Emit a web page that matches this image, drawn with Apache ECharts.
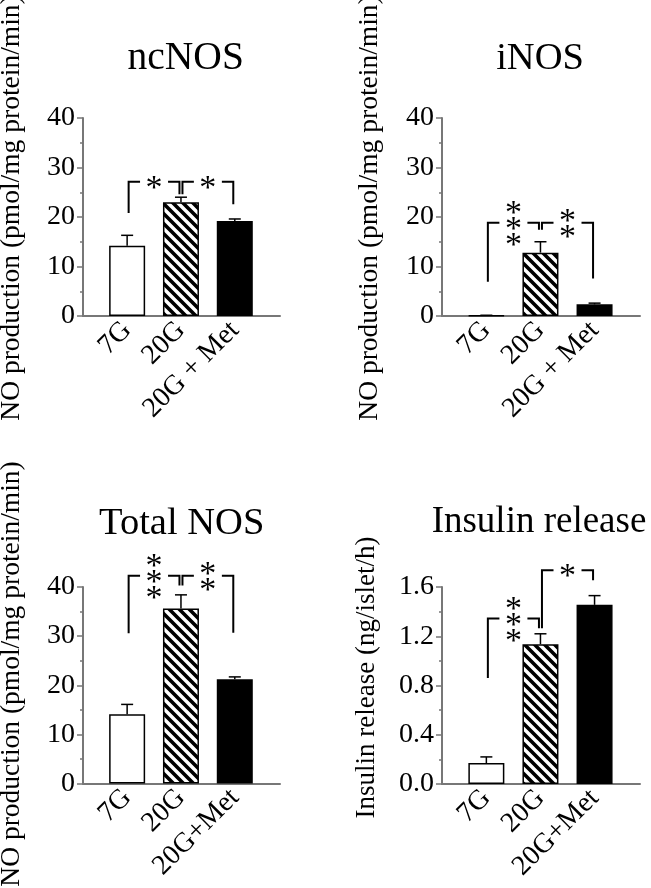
<!DOCTYPE html>
<html><head><meta charset="utf-8">
<script src="https://cdn.jsdelivr.net/npm/echarts@6/dist/echarts.min.js"></script>
<style>html,body{margin:0;padding:0;background:#fff}#c{width:651px;height:888px}</style>
</head><body><div id="c"></div>
<script>
// ---------------- data ----------------
const categoriesSpaced = ['7G', '20G', '20G + Met'];
const categoriesTight = ['7G', '20G', '20G+Met'];

const ncNOS = [14.2, 23.0, 19.2];
const ncNOSErr = [2.1, 1.0, 0.4];
const iNOS = [0.1, 12.8, 2.35];
const iNOSErr = [0.05, 2.2, 0.25];
const totalNOS = [14.1, 35.6, 21.2];
const totalNOSErr = [2.0, 2.8, 0.5];
const insulin = [0.17, 1.135, 1.455];
const insulinErr = [0.05, 0.085, 0.075];

const nosTicks = [0, 10, 20, 30, 40];
const insulinTicks = [0, 0.4, 0.8, 1.2, 1.6];

// significance brackets: [fromIndex, toIndex, topValue, leftLegEnd, rightLegEnd]
const ncBrackets = [[0, 1, 27.1, 20.8, 24.6], [1, 2, 27.1, 24.6, 22.6]];
const ncStars = ['*', '*'];
const iBrackets = [[0, 1, 18.85, 6.9, 17.4], [1, 2, 18.85, 17.4, 7.6]];
const iStars = ['***', '**'];
const totalBrackets = [[0, 1, 42.3, 30.6, 40.3], [1, 2, 42.3, 40.3, 30.7]];
const totalStars = ['***', '**'];
const insulinBrackets = [[0, 1, 1.344, 0.86, 1.265], [1, 2, 1.736, 1.265, 1.655]];
const insulinStars = ['***', '*'];

const titles = ['ncNOS', 'iNOS', 'Total NOS', 'Insulin release'];
const yTitles = ['NO production (pmol/mg protein/min)', 'NO production (pmol/mg protein/min)',
                 'NO production (pmol/mg protein/min)', 'Insulin release (ng/islet/h)'];

// ---------------- styling / layout ----------------
const FONT = '"Liberation Serif", "Times New Roman", serif';
const AXIS_COLOR = '#777';

const layout = [
  { grid: { left: 83, top: 118, width: 197, height: 198 }, title: [185.7, 39], titleSize: 39.5, ytitle: [12, 208], ytitleSize: 27.5 },
  { grid: { left: 442, top: 118, width: 198, height: 198 }, title: [540, 39], titleSize: 38.5, ytitle: [370, 208], ytitleSize: 27.5 },
  { grid: { left: 83, top: 587, width: 197, height: 196.5 }, title: [181.7, 504], titleSize: 38.5, ytitle: [12, 674], ytitleSize: 27.5 },
  { grid: { left: 442, top: 587, width: 198, height: 197 }, title: [539, 504], titleSize: 37, ytitle: [367, 677.5], ytitleSize: 27 }
];

const panels = [
  { values: ncNOS, errors: ncNOSErr, labels: categoriesSpaced, ticks: nosTicks, brackets: ncBrackets, stars: ncStars, decimals: 0 },
  { values: iNOS, errors: iNOSErr, labels: categoriesSpaced, ticks: nosTicks, brackets: iBrackets, stars: iStars, decimals: 0 },
  { values: totalNOS, errors: totalNOSErr, labels: categoriesTight, ticks: nosTicks, brackets: totalBrackets, stars: totalStars, decimals: 0 },
  { values: insulin, errors: insulinErr, labels: categoriesTight, ticks: insulinTicks, brackets: insulinBrackets, stars: insulinStars, decimals: 1 }
];

// hatch pattern (diagonal "\" stripes)
function makeHatch() {
  const c = document.createElement('canvas');
  c.width = 10; c.height = 10;
  const g = c.getContext('2d');
  g.fillStyle = '#fff'; g.fillRect(0, 0, 10, 10);
  g.strokeStyle = '#000'; g.lineWidth = 3.6;
  g.beginPath();
  g.moveTo(-2, -2); g.lineTo(12, 12);
  g.moveTo(-2, 8); g.lineTo(2, 12);
  g.moveTo(8, -2); g.lineTo(12, 2);
  g.stroke();
  return c;
}
const hatch = makeHatch();
const barFills = ['#fff', { image: hatch, repeat: 'repeat' }, '#000'];

function errRender(params, api) {
  const x = api.value(0), y = api.value(1), e = api.value(2);
  const p0 = api.coord([x, y]), p1 = api.coord([x, y + e]);
  const st = { stroke: '#000', lineWidth: 1.5 };
  return { type: 'group', children: [
    { type: 'line', shape: { x1: p0[0], y1: p0[1], x2: p1[0], y2: p1[1] }, style: st },
    { type: 'line', shape: { x1: p1[0] - 6, y1: p1[1], x2: p1[0] + 6, y2: p1[1] }, style: st }
  ] };
}

const STAR_SIZE = 34;
function bracketRender(stars) {
  return function (params, api) {
    const s = stars[params.dataIndex];
    const x1 = api.value(0), x2 = api.value(1), top = api.value(2), l = api.value(3), r = api.value(4);
    const pL = api.coord([x1, l]), pT = api.coord([x1, top]), pR = api.coord([x2, r]);
    const xl = pL[0] + 1.5, xr = pR[0] - 1.5, yt = pT[1];
    const xm = (pL[0] + pR[0]) / 2;
    const gap = 14;
    const ls = { stroke: '#000', lineWidth: 2, fill: null };
    return { type: 'group', children: [
      { type: 'polyline', shape: { points: [[xl, pL[1]], [xl, yt], [xm - gap, yt]] }, style: ls },
      { type: 'polyline', shape: { points: [[xm + gap, yt], [xr, yt], [xr, pR[1]]] }, style: ls },
      { type: 'text', x: xm, y: yt + STAR_SIZE * 0.21,
        style: { text: s.split('').join('\n'), font: STAR_SIZE + 'px ' + FONT, fill: '#000',
                 align: 'center', verticalAlign: 'middle', textAlign: 'center', textVerticalAlign: 'middle', lineHeight: 16 } }
    ] };
  };
}

const option = {
  backgroundColor: '#fff',
  animation: false,
  title: [], grid: [], xAxis: [], yAxis: [], series: [], graphic: []
};

panels.forEach((p, k) => {
  const L = layout[k];
  option.grid.push(Object.assign({ containLabel: false }, L.grid));
  option.title.push({
    text: titles[k], left: L.title[0], top: L.title[1], textAlign: 'center', padding: 0,
    textStyle: { fontFamily: FONT, fontSize: L.titleSize, fontWeight: 'normal', color: '#000' }
  });
  option.graphic.push({
    type: 'text', x: L.ytitle[0], y: L.ytitle[1], rotation: Math.PI / 2,
    style: { text: yTitles[k], font: L.ytitleSize + 'px ' + FONT, fill: '#000',
             align: 'center', verticalAlign: 'middle', textAlign: 'center', textVerticalAlign: 'middle' }
  });
  option.xAxis.push({
    type: 'value', gridIndex: k, min: -0.82, max: 2.84,
    axisLine: { show: true, onZero: false, lineStyle: { color: AXIS_COLOR, width: 2 } },
    axisTick: { show: false }, splitLine: { show: false },
    axisLabel: {
      customValues: [0, 1, 2], rotate: 45, margin: 10,
      fontFamily: FONT, fontSize: 28, color: '#000',
      formatter: v => (Number.isInteger(v) && p.labels[v] !== undefined) ? p.labels[v] : ''
    }
  });
  const t = p.ticks;
  option.yAxis.push({
    type: 'value', gridIndex: k, min: t[0], max: t[t.length - 1], interval: t[1] - t[0],
    axisLine: { show: true, onZero: false, lineStyle: { color: AXIS_COLOR, width: 2 } },
    axisTick: { show: true, length: 6, lineStyle: { color: AXIS_COLOR, width: 1.5 } },
    minorTick: { show: true, splitNumber: 2, length: 3, lineStyle: { color: AXIS_COLOR, width: 1.5 } },
    splitLine: { show: false }, minorSplitLine: { show: false },
    axisLabel: { margin: 8, fontFamily: FONT, fontSize: 28, color: '#000',
                 formatter: v => v.toFixed(p.decimals) }
  });
  option.series.push({
    type: 'bar', xAxisIndex: k, yAxisIndex: k, barWidth: 36,
    data: p.values.map((v, i) => ({ value: [i, v], itemStyle: { color: barFills[i], borderColor: '#000', borderWidth: 1.5 } }))
  });
  option.series.push({
    type: 'custom', xAxisIndex: k, yAxisIndex: k, z: 5, clip: false,
    data: p.values.map((v, i) => [i, v, p.errors[i]]),
    encode: { x: 0, y: 1 },
    renderItem: errRender
  });
  option.series.push({
    type: 'custom', xAxisIndex: k, yAxisIndex: k, z: 6, clip: false,
    data: p.brackets,
    encode: { x: 0, y: 2 },
    renderItem: bracketRender(p.stars)
  });
});

const chart = echarts.init(document.getElementById('c'), null, { renderer: 'canvas' });
chart.setOption(option);
</script>
</body></html>
